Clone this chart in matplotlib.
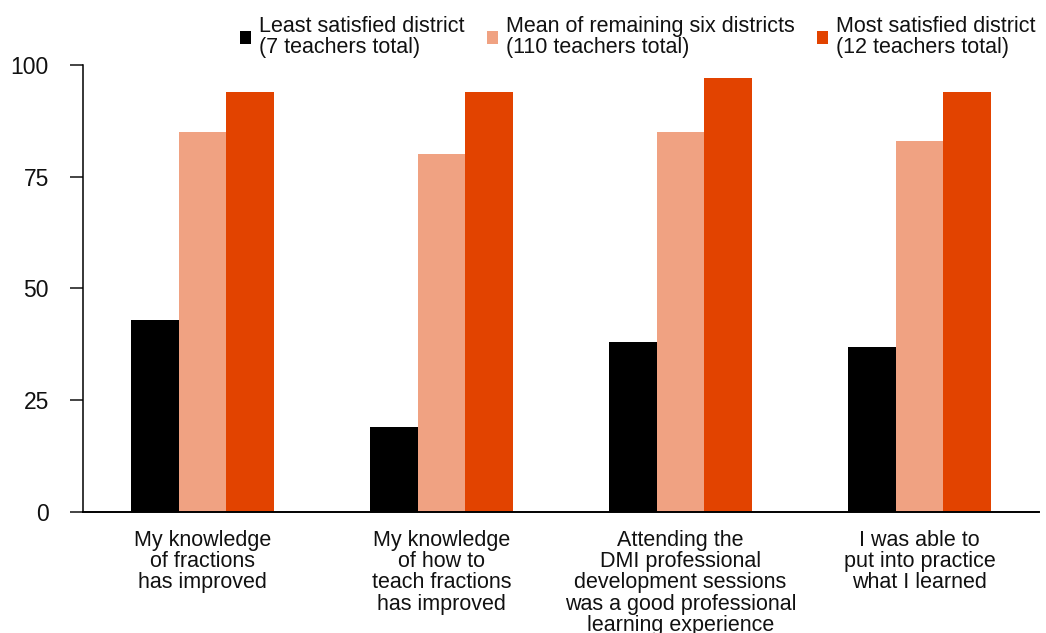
import matplotlib.pyplot as plt
import numpy as np

categories = ["My knowledge\nof fractions\nhas improved",
              "My knowledge\nof how to\nteach fractions\nhas improved",
              "Attending the\nDMI professional\ndevelopment sessions\nwas a good professional\nlearning experience",
              "I was able to\nput into practice\nwhat I learned"]
least = [43, 19, 38, 37]
mean_six = [85, 80, 85, 83]
most = [94, 94, 97, 94]
series_names = ["Least satisfied district\n(7 teachers total)",
                "Mean of remaining six districts\n(110 teachers total)",
                "Most satisfied district\n(12 teachers total)"]
colors = ["#000000", "#f0a282", "#e24300"]

plt.rcParams['font.family'] = ['Liberation Sans', 'DejaVu Sans']
fs = 15.5

fig = plt.figure(figsize=(10.46, 6.33), dpi=100)
ax = fig.add_axes([0.0793, 0.1912, 0.914, 0.7061])

x = np.arange(len(categories))
w = 0.2
bars = []
for i, (vals, c, name) in enumerate(zip([least, mean_six, most], colors, series_names)):
    b = ax.bar(x + (i - 1) * w, vals, w, color=c, label=name)
    bars.append(b)

ax.set_xlim(-0.5, 3.5)
ax.set_ylim(0, 100)
ax.set_yticks([0, 25, 50, 75, 100])
ax.set_xticks(x)
ax.set_xticklabels(categories, linespacing=1.01)
ax.tick_params(axis='x', length=0, pad=13, labelsize=fs, colors='#111111')
ax.tick_params(axis='y', length=9.5, width=1.1, pad=15, labelsize=fs + 1, colors='#111111')
for side in ['top', 'right']:
    ax.spines[side].set_visible(False)
ax.spines['left'].set_linewidth(1.1)
ax.spines['bottom'].set_linewidth(1.4)

leg = fig.legend(handles=bars, labels=series_names, ncol=3, loc='upper left',
                 bbox_to_anchor=(0.2113, 1.005), frameon=False,
                 handlelength=0.5, handleheight=0.5, handletextpad=0.35,
                 columnspacing=1.07, fontsize=fs)
for t in leg.get_texts():
    t.set_linespacing(1.0)
    t.set_color('#111111')

fig.savefig('out.png', dpi=100)
